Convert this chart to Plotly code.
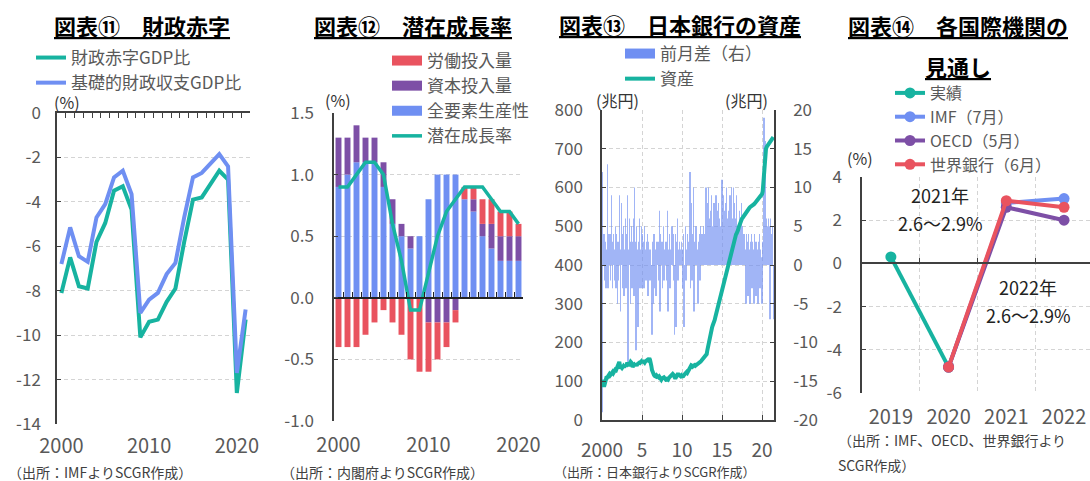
import pandas as pd
import plotly.graph_objects as go

W, H = 1090, 481
FONT = "Noto Sans CJK JP"
GRAY = "#595959"
AX = "#404040"
GRID = "#d4d4d4"
TEAL = "#17b3a0"
BLUE = "#6f8ff2"
PURPLE = "#7d4fa6"
RED = "#e9535f"

# ---------------- Panel 1 : fiscal deficit ----------------
p1_years = list(range(2000, 2022))
p1_deficit = [-8.1, -6.5, -7.8, -7.9, -5.8, -4.95, -3.5, -3.3, -4.35, -10.1, -9.4,
              -9.3, -8.5, -7.9, -5.8, -3.9, -3.8, -3.2, -2.6, -3.0, -12.6, -9.3]
p1_primary = [-6.8, -5.15, -6.45, -6.7, -4.7, -4.1, -2.9, -2.6, -3.65, -9.0, -8.4,
              -8.1, -7.25, -6.75, -4.7, -2.9, -2.7, -2.3, -1.85, -2.4, -11.7, -8.85]
p1_yticks = [0, -2, -4, -6, -8, -10, -12, -14]
p1_yticktext = ["0", "-2", "-4", "-6", "-8", "-10", "-12", "-14"]
p1_xticks = [2000, 2010, 2020]

# ---------------- Panel 2 : potential growth ----------------
p2_years = list(range(2000, 2021))
p2_tfp = [0.9, 1.0, 1.1, 1.1, 1.1, 0.9, 0.6, 0.5, 0.4, 0.5, 0.8, 1.0, 1.0, 1.0,
          0.8, 0.7, 0.5, 0.4, 0.3, 0.3, 0.3]
p2_capital = [0.4, 0.3, 0.3, 0.2, 0.2, 0.2, 0.2, 0.1, 0.1, 0.0, -0.2, -0.2, -0.2,
              -0.1, 0.0, 0.1, 0.1, 0.2, 0.2, 0.2, 0.2]
p2_labor = [-0.4, -0.4, -0.4, -0.3, -0.2, -0.1, -0.2, -0.3, -0.5, -0.6, -0.4, -0.3,
            -0.2, -0.1, 0.1, 0.1, 0.2, 0.2, 0.2, 0.2, 0.1]
p2_potential = [0.9, 0.9, 1.0, 1.1, 1.1, 1.0, 0.6, 0.3, -0.1, -0.1, 0.2, 0.5, 0.7,
                0.8, 0.9, 0.9, 0.9, 0.8, 0.7, 0.7, 0.6]
p2_yticks = [1.5, 1.0, 0.5, 0.0, -0.5, -1.0]
p2_yticktext = ["1.5", "1.0", "0.5", "0.0", "-0.5", "-1.0"]
p2_xticks = [2000, 2010, 2020]

# ---------------- Panel 3 : BOJ assets (monthly) ----------------
p3_assets = (
    [104, 98, 90, 86, 92, 100, 106, 112, 110, 113, 116, 118] +
    [115, 118, 122, 120, 124, 121, 125, 127, 124, 128, 130, 132] +
    [137, 145, 150, 140, 133, 136, 134, 137, 139, 136, 140, 142] +
    [138, 142, 148, 145, 140, 143, 146, 150, 148, 144, 137, 140] +
    [142, 139, 146, 143, 140, 144, 146, 145, 148, 147, 150, 151] +
    [148, 150, 154, 150, 148, 151, 153, 152, 155, 154, 157, 159] +
    [155, 150, 140, 129, 122, 118, 116, 114, 113, 112, 115, 113] +
    [113, 110, 112, 108, 106, 104, 107, 109, 111, 110, 108, 106] +
    [103, 101, 105, 104, 108, 110, 112, 115, 118, 120, 119, 117] +
    [112, 108, 107, 110, 114, 118, 120, 117, 114, 112, 113, 115] +
    [111, 110, 114, 116, 118, 120, 123, 124, 122, 125, 128, 132] +
    [137, 135, 141, 140, 138, 140, 141, 142, 140, 141, 143, 144] +
    [145, 146, 148, 149, 151, 153, 155, 157, 158, 160, 162, 164] +
    [166, 170, 180, 190, 201, 210, 218, 226, 232, 238, 244, 247] +
    [250, 258, 265, 272, 280, 287, 294, 300, 310, 320, 326, 333] +
    [340, 346, 352, 358, 364, 372, 380, 388, 396, 404, 412, 420] +
    [425, 432, 440, 447, 453, 460, 466, 471, 475, 479, 482, 485] +
    [490, 497, 503, 509, 513, 517, 520, 522, 525, 528, 530, 533] +
    [536, 539, 541, 543, 545, 547, 549, 550, 552, 553, 555, 556] +
    [557, 559, 561, 563, 564, 566, 567, 569, 571, 573, 576, 580] +
    [583, 590, 610, 650, 680, 695, 700, 705, 708, 711, 713, 715] +
    [718, 721, 724, 727, 729, 730]
)
p3_diff = (
    [-19, 12, 2, 4, -2, 3, -3, 2, 13, -3, 4, 3] +
    [4, -2, 9, 3, -3, 4, 2, -2, 5, -3, 4, -5] +
    [3, -2, 9, 2, -6, 8, 4, -3, 5, -4, 2, 6] +
    [-3, 4, 9, -13, 2, 6, 3, -5, 5, -3, 3, 6] +
    [-4, 10, 3, -11, 5, 2, -8, 3, 6, -3, 2, 5] +
    [-3, 4, 3, -3, 5, 2, -2, 3, 4, -4, 3, 2] +
    [-2, 2, -4, -9, 3, -5, 4, -3, 2, -4, 3, 1] +
    [3, -2, 7, -6, 4, 2, 3, -3, 5, -2, 2, 1] +
    [3, -2, 7, -6, 2, 4, -3, 2, 1, 5, 3, 4] +
    [-2, -9, 4, -8, 3, 6, -2, 2, 3, 1, 2, 3] +
    [2, -3, 4, -8, -7, 5, -2, 2, 4, 3, 2, 1] +
    [12, -3, 8, -2, 4, 10, -6, 3, 2, 5, 3, 2] +
    [-5, 3, 4, -2, 5, 3, 4, 2, 5, 3, 4, 6] +
    [10, 9, 4, 8, 10, 6, 3, 7, 9, 4, 5, 6] +
    [8, 4, 6, 9, 5, 7, 3, 8, 6, 4, 5, 7] +
    [11, 6, 9, 4, 7, 8, 5, 10, 6, 4, 7, 5] +
    [9, 4, 10, 6, 5, 10, 3, 8, 6, 4, 9, 5] +
    [5, 3, 7, 4, 6, 8, 2, 5, 3, 4, 4, 2] +
    [-5, 4, 3, -4, 4, 2, -5, 3, 4, -3, 3, 2] +
    [-5, 4, 3, -4, 3, 2, -5, 3, 4, -3, 2, 1] +
    [-5, 3, 5, 19, 18, 16, 6, 4, 5, 3, 6, 5] +
    [-7, 6, 4, 3, 5, -7]
)
p3_months = pd.date_range("2000-01-01", periods=len(p3_assets), freq="MS")
p3_xtickvals = ["2000-01-01", "2005-01-01", "2010-01-01", "2015-01-01", "2020-01-01"]
p3_xticktext = ["2000", "5", "10", "15", "20"]
p3_lticks = [0, 100, 200, 300, 400, 500, 600, 700, 800]
p3_rticks = [-20, -15, -10, -5, 0, 5, 10, 15, 20]
p3_rticktext = ["-20", "-15", "-10", "-5", "0", "5", "10", "15", "20"]

# ---------------- Panel 4 : outlooks ----------------
p4_years = ["2019", "2020", "2021", "2022"]
p4_actual = [0.3, -4.8]
p4_imf = [-4.8, 2.8, 3.0]
p4_oecd = [-4.8, 2.6, 2.0]
p4_wb = [-4.8, 2.9, 2.6]
p4_yticks = [4, 2, 0, -2, -4, -6]
p4_yticktext = ["4", "2", "0", "-2", "-4", "-6"]


def xd(a, b):
    return [a / W, b / W]


def yd(top, bottom):
    return [1 - bottom / H, 1 - top / H]


fig = go.Figure()

# Panel 1 traces
fig.add_trace(go.Scatter(x=p1_years, y=p1_deficit, mode="lines", name="財政赤字GDP比",
                         line=dict(color=TEAL, width=4), xaxis="x", yaxis="y", legend="legend"))
fig.add_trace(go.Scatter(x=p1_years, y=p1_primary, mode="lines", name="基礎的財政収支GDP比",
                         line=dict(color=BLUE, width=4), xaxis="x", yaxis="y", legend="legend"))
fig.add_trace(go.Scatter(x=[None], y=[None], xaxis="x2", yaxis="y", showlegend=False, hoverinfo="skip"))

# Panel 2 traces
for vals, col in [(p2_tfp, BLUE), (p2_capital, PURPLE), (p2_labor, RED)]:
    fig.add_trace(go.Bar(x=p2_years, y=vals, width=0.66, marker=dict(color=col, line=dict(width=0)),
                         xaxis="x3", yaxis="y2", showlegend=False, hoverinfo="skip"))
fig.add_trace(go.Scatter(x=p2_years, y=p2_potential, mode="lines", name="潜在成長率",
                         line=dict(color=TEAL, width=3.5), xaxis="x3", yaxis="y2",
                         legend="legend2", legendrank=4))
for rank, (nm, col) in enumerate([("労働投入量", RED), ("資本投入量", PURPLE), ("全要素生産性", BLUE)], 1):
    fig.add_trace(go.Scatter(x=[None], y=[None], mode="lines", name=nm, line=dict(color=col, width=10),
                             xaxis="x3", yaxis="y2", legend="legend2", legendrank=rank))
fig.add_trace(go.Scatter(x=[None], y=[None], xaxis="x4", yaxis="y2", showlegend=False, hoverinfo="skip"))

# Panel 3 traces
fig.add_trace(go.Bar(x=p3_months, y=p3_diff, width=18 * 86400000, opacity=0.65,
                     marker=dict(color=BLUE, line=dict(width=0)),
                     xaxis="x5", yaxis="y3", showlegend=False, hoverinfo="skip"))
fig.add_trace(go.Scatter(x=[None], y=[None], mode="lines", name="前月差（右）",
                         line=dict(color=BLUE, width=10), xaxis="x5", yaxis="y3",
                         legend="legend3", legendrank=1, legendgroup="a"))
fig.add_trace(go.Scatter(x=p3_months, y=p3_assets, mode="lines", name="資産",
                         line=dict(color=TEAL, width=4), xaxis="x5", yaxis="y4",
                         legend="legend3", legendrank=2, legendgroup="b"))

# Panel 4 traces
for nm, xs, ys, col in [("実績", p4_years[:2], p4_actual, TEAL),
                        ("IMF（7月）", p4_years[1:], p4_imf, BLUE),
                        ("OECD（5月）", p4_years[1:], p4_oecd, PURPLE),
                        ("世界銀行（6月）", p4_years[1:], p4_wb, RED)]:
    fig.add_trace(go.Scatter(x=xs, y=ys, mode="lines+markers", name=nm,
                             line=dict(color=col, width=4), marker=dict(color=col, size=11),
                             xaxis="x6", yaxis="y5", legend="legend4"))
fig.add_trace(go.Scatter(x=[None], y=[None], xaxis="x7", yaxis="y5", showlegend=False, hoverinfo="skip"))

tickfont_y = dict(family=FONT, size=17, color=GRAY)
tickfont_x = dict(family=FONT, size=20, color=GRAY)
common_y = dict(showline=True, linecolor=AX, linewidth=1.5, ticks="inside", ticklen=4,
                tickcolor=AX, zeroline=False, gridcolor=GRID, griddash="4px,3px",
                tickfont=tickfont_y)

p2_zero = yd(113, 421)[0] + (0 - (-1.0)) / 2.5 * (yd(113, 421)[1] - yd(113, 421)[0])
p4_zero = yd(177, 393)[0] + (0 - (-6)) / 10 * (yd(177, 393)[1] - yd(177, 393)[0])

fig.update_layout(
    width=W, height=H, margin=dict(l=0, r=0, t=0, b=0, autoexpand=False),
    paper_bgcolor="white", plot_bgcolor="white",
    font=dict(family=FONT, color=GRAY),
    barmode="relative",
    # panel 1
    xaxis=dict(domain=xd(57, 250), anchor="y", range=[1999.5, 2021.5], tickvals=p1_xticks,
               showline=False, showgrid=False, zeroline=False, ticks="",
               tickfont=tickfont_x, ticklabelstandoff=8),
    xaxis2=dict(overlaying="x", anchor="y", side="top", range=[1999.5, 2021.5],
                tick0=1999.5, dtick=1, ticks="inside", ticklen=5, tickcolor=AX,
                showline=True, linecolor=AX, linewidth=1.5, showticklabels=False,
                showgrid=False, zeroline=False),
    yaxis=dict(domain=yd(113, 424), anchor="x", range=[-14, 0], tickvals=p1_yticks,
               ticktext=p1_yticktext, ticklabelstandoff=11, **common_y),
    # panel 2
    xaxis3=dict(domain=xd(334, 523), anchor="y2", range=[1999.5, 2020.5], tickvals=p2_xticks,
                showline=False, showgrid=False, zeroline=False, ticks="",
                tickfont=tickfont_x, ticklabelstandoff=10),
    xaxis4=dict(overlaying="x3", anchor="free", position=p2_zero, range=[1999.5, 2020.5],
                tick0=1999.5, dtick=1, ticks="inside", ticklen=5, tickcolor="#222",
                showline=True, linecolor="#222", linewidth=1.5, showticklabels=False,
                showgrid=False, zeroline=False),
    yaxis2=dict(domain=yd(113, 421), anchor="x3", range=[-1.0, 1.5], tickvals=p2_yticks,
                ticktext=p2_yticktext, ticklabelstandoff=15, **common_y),
    # panel 3
    xaxis5=dict(domain=xd(602, 774), anchor="y3", type="date",
                range=["2000-01-01", "2021-07-01"], tickvals=p3_xtickvals, ticktext=p3_xticktext,
                showline=True, linecolor=AX, linewidth=1.5, ticks="inside", ticklen=5,
                tickcolor=AX, showgrid=True, gridcolor=GRID, griddash="4px,3px",
                zeroline=False, tickfont=dict(family=FONT, size=19, color=GRAY),
                ticklabelstandoff=12),
    yaxis3=dict(domain=yd(110, 420), anchor="x5", side="right", range=[-20, 20],
                tickvals=p3_rticks, ticktext=p3_rticktext, ticklabelstandoff=14, **common_y),
    yaxis4=dict(overlaying="y3", anchor="x5", side="left", range=[0, 800], tickvals=p3_lticks,
                showgrid=False, showline=True, linecolor=AX, linewidth=1.5, ticks="inside",
                ticklen=4, tickcolor=AX, zeroline=False, tickfont=tickfont_y,
                ticklabelstandoff=14),
    # panel 4
    xaxis6=dict(domain=xd(862, 1090), anchor="y5", type="category", range=[-0.5, 3.45],
                showline=False, showgrid=False, zeroline=False, ticks="",
                tickfont=tickfont_x, ticklabelstandoff=10),
    xaxis7=dict(overlaying="x6", anchor="free", position=p4_zero, type="linear",
                range=[-0.5, 3.45], tickvals=[0.5, 1.5, 2.5], ticks="inside", ticklen=5,
                tickcolor=AX, showline=True, linecolor=AX, linewidth=1.5,
                showticklabels=False, showgrid=True, gridcolor=GRID, griddash="4px,3px",
                zeroline=False),
    yaxis5=dict(domain=yd(177, 393), anchor="x6", range=[-6, 4], tickvals=p4_yticks,
                ticktext=p4_yticktext, ticklabelstandoff=15, **common_y),
)

legend_common = dict(bgcolor="rgba(0,0,0,0)", borderwidth=0, traceorder="normal",
                     xanchor="left", yanchor="top", itemwidth=30)
lf17 = dict(family=FONT, size=17, color=GRAY)
lf16 = dict(family=FONT, size=16, color=GRAY)
fig.update_layout(
    legend=dict(x=31 / W, y=1 - 40 / H, font=lf17, **legend_common),
    legend2=dict(x=387 / W, y=1 - 43 / H, font=lf17, **legend_common),
    legend3=dict(x=620 / W, y=1 - 36 / H, tracegroupgap=3, font=lf17, **legend_common),
    legend4=dict(x=890 / W, y=1 - 76 / H, font=lf16, **legend_common),
)

ann = []


def text(x, y, t, size, color="#000", anchor="center"):
    ann.append(dict(x=x / W, y=1 - y / H, xref="paper", yref="paper", text=t, showarrow=False,
                    xanchor=anchor, yanchor="middle",
                    font=dict(family=FONT, size=size, color=color)))


TITLE = 22
text(142, 25, "<b><u>図表⑪　財政赤字</u></b>", TITLE)
text(413, 25, "<b><u>図表⑫　潜在成長率</u></b>", TITLE)
text(680, 24, "<b><u>図表⑬　日本銀行の資産</u></b>", TITLE)
text(958, 25, "<b><u>図表⑭　各国際機関の</u></b>", TITLE)
text(958, 66, "<b><u>見通し</u></b>", TITLE)

text(67, 102, "(%)", 16, "#333")
text(338, 100, "(%)", 16, "#333")
text(617, 100, "(兆円)", 16, "#333")
text(746, 100, "(兆円)", 16, "#333")
text(860, 158, "(%)", 16, "#333")

text(6, 472, "（出所：IMFよりSCGR作成）", 14, "#404040", "left")
text(279, 472, "（出所：内閣府よりSCGR作成）", 14, "#404040", "left")
text(552, 471, "（出所：日本銀行よりSCGR作成）", 13, "#404040", "left")
text(836, 440, "（出所：IMF、OECD、世界銀行より", 14, "#404040", "left")
text(836, 465, "SCGR作成）", 14, "#404040", "left")

text(940, 195, "2021年", 18, "#222")
text(940, 223, "2.6～2.9%", 18, "#222")
text(1028, 287, "2022年", 18, "#222")
text(1028, 315, "2.6～2.9%", 18, "#222")

fig.update_layout(annotations=ann)
fig.write_html("out.html")
